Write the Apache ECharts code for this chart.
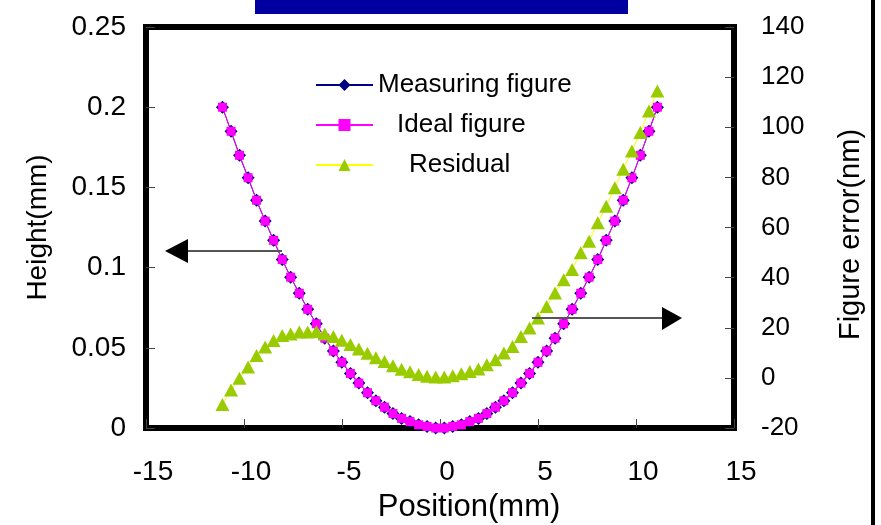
<!DOCTYPE html>
<html>
<head>
<meta charset="utf-8">
<script src="https://cdn.jsdelivr.net/npm/echarts@6/dist/echarts.min.js"></script>
<style>html,body{margin:0;padding:0;background:#fff}#c{width:881px;height:525px}</style>
</head>
<body>
<div id="c"></div>
<script>
// Position (mm)
const positions = [-11.10,-10.66,-10.23,-9.79,-9.36,-8.92,-8.49,-8.05,-7.62,-7.18,-6.75,-6.31,-5.88,-5.44,-5.01,-4.57,-4.14,-3.70,-3.27,-2.83,-2.40,-1.96,-1.53,-1.09,-0.66,-0.22,0.22,0.65,1.09,1.52,1.96,2.39,2.83,3.26,3.70,4.13,4.57,5.00,5.44,5.87,6.31,6.74,7.18,7.61,8.05,8.48,8.92,9.35,9.79,10.22,10.66,11.09];
// Height (mm)
const measuring = [0.200,0.185,0.170,0.156,0.142,0.129,0.117,0.105,0.094,0.084,0.074,0.065,0.056,0.048,0.041,0.034,0.028,0.022,0.017,0.013,0.009,0.006,0.004,0.002,0.001,0.000,0.000,0.001,0.002,0.004,0.006,0.009,0.013,0.017,0.022,0.028,0.034,0.041,0.048,0.056,0.065,0.074,0.084,0.094,0.105,0.117,0.129,0.142,0.156,0.170,0.185,0.200];
const ideal = [0.200,0.185,0.170,0.156,0.142,0.129,0.117,0.105,0.094,0.084,0.074,0.065,0.056,0.048,0.041,0.034,0.028,0.022,0.017,0.013,0.009,0.006,0.004,0.002,0.001,0.000,0.000,0.001,0.002,0.004,0.006,0.009,0.013,0.017,0.022,0.028,0.034,0.041,0.048,0.056,0.065,0.074,0.084,0.094,0.105,0.117,0.129,0.142,0.156,0.170,0.185,0.200];
// Figure error (nm)
const residual = [-10.6,-4.8,-0.1,4.3,8.9,12.3,14.9,16.9,17.5,18.3,18.3,18.5,17.5,16.5,15.0,13.3,11.5,9.8,8.0,6.5,4.8,3.4,2.4,1.3,0.6,0.3,0.3,0.8,1.6,2.5,3.5,5.2,7.2,9.9,12.5,16.5,19.9,23.9,28.5,33.9,39.2,43.2,49.9,54.5,61.9,68.5,75.9,83.2,90.5,97.9,106.5,114.5];
const seriesNames = ['Measuring figure','Ideal figure','Residual'];
const xName = 'Position(mm)', yLeftName = 'Height(mm)', yRightName = 'Figure error(nm)';

const pair = (xs, ys) => xs.map((x, i) => [x, ys[i]]);
const FONT = 'Liberation Sans, Arial, sans-serif';
const chart = echarts.init(document.getElementById('c'), null, {renderer: 'canvas'});
chart.setOption({
  animation: false,
  backgroundColor: '#fff',
  textStyle: {fontFamily: FONT},
  grid: {left: 146, right: 147, top: 27, bottom: 97, show: true, borderColor: '#000', borderWidth: 6,
    backgroundColor: 'transparent', containLabel: false, outerBoundsMode: 'none'},
  legend: {
    orient: 'vertical', left: 310, top: 67, itemWidth: 57, itemHeight: 15, itemGap: 14,
    textStyle: {fontSize: 26, color: '#000', fontFamily: FONT,
      rich: {s1: {width: 19}, s2: {width: 31}}},
    formatter: n => n === 'Ideal figure' ? '{s1|}' + n : (n === 'Residual' ? '{s2|}' + n : n),
    data: seriesNames
  },
  xAxis: {
    type: 'value', min: -15, max: 15, interval: 5,
    name: xName, nameLocation: 'middle', nameGap: 64,
    nameTextStyle: {fontSize: 31, color: '#000', fontFamily: FONT, padding: [0,0,0,58]},
    axisLine: {show: false, onZero: false},
    axisTick: {show: true, inside: true, length: 9, lineStyle: {color: '#444', width: 1}},
    axisLabel: {fontSize: 28, color: '#000', margin: 30, fontFamily: FONT, padding: [0,0,0,14]},
    splitLine: {show: false}
  },
  yAxis: [{
    type: 'value', min: 0, max: 0.25, interval: 0.05,
    name: yLeftName, nameLocation: 'middle', nameGap: 94, nameRotate: 90,
    nameTextStyle: {fontSize: 28, color: '#000', fontFamily: FONT},
    axisLine: {show: false, onZero: false},
    axisTick: {show: true, inside: true, length: 9, lineStyle: {color: '#444', width: 1}},
    axisLabel: {fontSize: 28, color: '#000', margin: 20, fontFamily: FONT},
    splitLine: {show: false}
  }, {
    type: 'value', min: -20, max: 140, interval: 20, position: 'right',
    name: yRightName, nameLocation: 'middle', nameGap: 102, nameRotate: 90,
    nameTextStyle: {fontSize: 29, color: '#000', fontFamily: FONT, padding: [0,14,0,0]},
    axisLine: {show: false, onZero: false},
    axisTick: {show: true, inside: true, length: 9, lineStyle: {color: '#444', width: 1}},
    axisLabel: {fontSize: 26, color: '#000', margin: 27, fontFamily: FONT},
    splitLine: {show: false}
  }],
  series: [{
    name: seriesNames[0], type: 'line', yAxisIndex: 0, data: pair(positions, measuring),
    symbol: 'diamond', symbolSize: 13,
    lineStyle: {color: '#000080', width: 1}, itemStyle: {color: '#000080'}
  }, {
    name: seriesNames[1], type: 'line', yAxisIndex: 0, data: pair(positions, ideal),
    symbol: 'rect', symbolSize: 9,
    lineStyle: {color: '#ff00ff', width: 1}, itemStyle: {color: '#ff00ff'}
  }, {
    name: seriesNames[2], type: 'line', yAxisIndex: 1, data: pair(positions, residual),
    symbol: 'triangle', symbolSize: [14, 13],
    lineStyle: {color: '#ffff00', width: 1}, itemStyle: {color: '#99cc00'}
  }],
  graphic: [
    {type: 'rect', left: 255, top: 0, shape: {width: 373, height: 14}, style: {fill: '#0000a0'}},
    {type: 'rect', left: 871, top: 0, shape: {width: 4, height: 525}, style: {fill: '#000'}},
    {type: 'line', shape: {x1: 186, y1: 251, x2: 282, y2: 251}, style: {stroke: '#555', lineWidth: 2}, z: 100},
    {type: 'polygon', shape: {points: [[165, 251], [188, 239], [188, 263]]}, style: {fill: '#000'}, z: 100},
    {type: 'line', shape: {x1: 532, y1: 318, x2: 664, y2: 318}, style: {stroke: '#555', lineWidth: 2}, z: 100},
    {type: 'polygon', shape: {points: [[682, 318], [662, 307], [662, 330]]}, style: {fill: '#000'}, z: 100}
  ]
});
</script>
</body>
</html>
